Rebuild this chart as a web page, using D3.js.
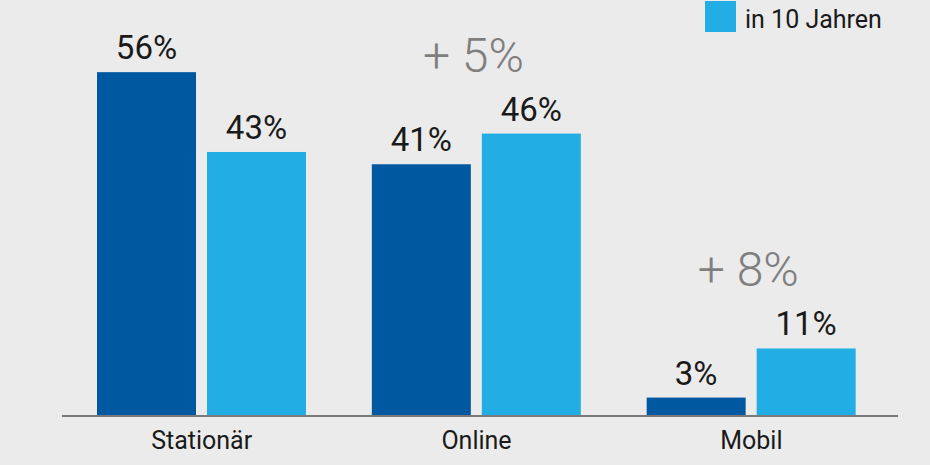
<!DOCTYPE html>
<html><head><meta charset="utf-8">
<script src="https://cdn.jsdelivr.net/npm/d3@7"></script>
<style>html,body{margin:0;padding:0;background:#ebebeb;overflow:hidden}</style>
</head><body>
<svg id="c" width="930" height="465"></svg>
<script>
const categories = ["Stationär", "Online", "Mobil"];
const seriesNames = ["heute", "in 10 Jahren"];
const heute = [56, 41, 3];
const in10Jahren = [43, 46, 11];
const changeLabels = ["", "+ 5%", "+ 8%"];

const colors = {"heute": "#0059a0", "in 10 Jahren": "#22aee4"};
const font = "Roboto, 'Liberation Sans', Arial, sans-serif";

const svg = d3.select("#c");
svg.append("rect").attr("width", 930).attr("height", 465).attr("fill", "#ebebeb");

const baseY = 416;
const x = d3.scaleBand().domain(categories).range([64.25, 888.75]).padding(0);
const xs = d3.scaleBand().domain(seriesNames).range([32.75, 241.75]).paddingInner(0.1).paddingOuter(0);
const y = d3.scaleLinear().domain([0, 100]).range([baseY, baseY - 614]);

const data = categories.map((c, i) => ({cat: c, vals: [
  {s: "heute", v: heute[i]}, {s: "in 10 Jahren", v: in10Jahren[i]}], change: changeLabels[i]}));

const g = svg.selectAll("g.grp").data(data).join("g").attr("class", "grp")
  .attr("transform", d => `translate(${x(d.cat)},0)`);

g.selectAll("rect").data(d => d.vals).join("rect")
  .attr("x", d => xs(d.s)).attr("width", xs.bandwidth())
  .attr("y", d => y(d.v)).attr("height", d => baseY - y(d.v))
  .attr("fill", d => colors[d.s]);

g.selectAll("text.val").data(d => d.vals).join("text").attr("class", "val")
  .attr("x", d => xs(d.s) + xs.bandwidth() / 2).attr("y", d => y(d.v) - 13)
  .attr("text-anchor", "middle").attr("font-family", font).attr("font-size", 33)
  .attr("font-weight", 400).attr("fill", "#1a1a1a").text(d => d.v + "%");

g.filter(d => d.change).append("text")
  .attr("x", x.bandwidth() / 2 - 3)
  .attr("y", d => y(d3.max(d.vals, v => v.v)) - 62)
  .attr("text-anchor", "middle").attr("font-family", font).attr("font-size", 48)
  .attr("font-weight", 300).attr("fill", "#7f7f7f").text(d => d.change);

// axis
const axis = d3.axisBottom(x).tickSize(0).tickPadding(15);
const ax = svg.append("g").attr("transform", `translate(0,${baseY})`).call(axis);
ax.select(".domain").remove();
ax.selectAll("text").attr("font-family", font).attr("font-size", 25).attr("fill", "#1a1a1a");
svg.append("line").attr("x1", 62).attr("x2", 898).attr("y1", baseY).attr("y2", baseY)
  .attr("stroke", "#7a7a7a").attr("stroke-width", 2);

// legend (only the visible item)
const lg = svg.append("g").attr("transform", "translate(705,1)");
lg.append("rect").attr("width", 31).attr("height", 31).attr("fill", colors["in 10 Jahren"]);
lg.append("text").attr("x", 40).attr("y", 27).attr("font-family", font).attr("font-size", 25)
  .attr("fill", "#1a1a1a").text(seriesNames[1]);
</script>
</body></html>
